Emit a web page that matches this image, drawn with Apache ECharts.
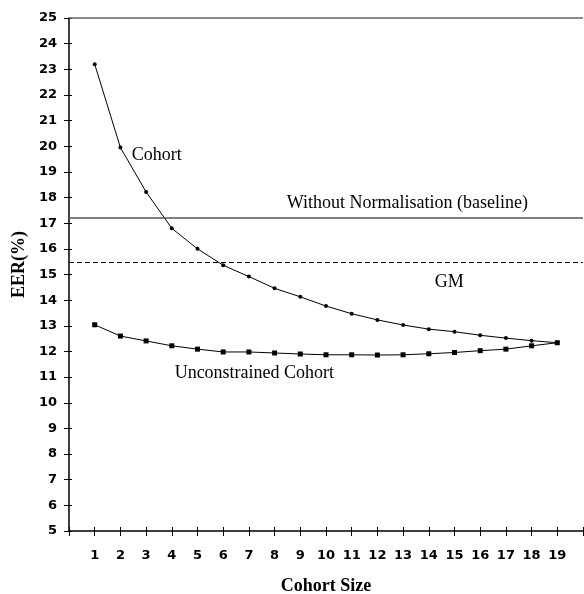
<!DOCTYPE html>
<html>
<head>
<meta charset="utf-8">
<script src="https://cdn.jsdelivr.net/npm/echarts@6/dist/echarts.min.js"></script>
<style>html,body{margin:0;padding:0;background:#fff;}#c{width:584px;height:594px;}</style>
</head>
<body>
<div id="c"></div>
<script>
const cohortSizes = [1,2,3,4,5,6,7,8,9,10,11,12,13,14,15,16,17,18,19];
const cohortEER = [23.2, 19.95, 18.22, 16.8, 16.0, 15.36, 14.92, 14.46, 14.13, 13.77, 13.47, 13.23, 13.03, 12.87, 12.77, 12.63, 12.52, 12.42, 12.34];
const unconstrainedEER = [13.04, 12.6, 12.41, 12.22, 12.09, 11.98, 11.98, 11.94, 11.9, 11.87, 11.87, 11.86, 11.87, 11.91, 11.96, 12.03, 12.09, 12.22, 12.34];
const baselineEER = 17.21;
const gmEER = 15.47;
const annotations = [
  {text: 'Cohort', x: 2.44, y: 19.66},
  {text: 'Without Normalisation (baseline)', x: 8.47, y: 17.79},
  {text: 'GM', x: 14.23, y: 14.71},
  {text: 'Unconstrained Cohort', x: 4.11, y: 11.16}
];

const chart = echarts.init(document.getElementById('c'), null, {renderer: 'canvas'});
const tickFont = {fontFamily: 'DejaVu Sans', fontWeight: 'bold', fontSize: 13, color: '#000'};
const serif = 'Liberation Serif, Times New Roman, serif';

const option = {
  animation: false,
  backgroundColor: '#fff',
  grid: {left: 69, top: 18, width: 514, height: 513, containLabel: false, outerBoundsMode: 'none'},
  xAxis: [{
    type: 'value', min: 0, max: 20, interval: 1,
    name: 'Cohort Size', nameLocation: 'middle', nameGap: 46,
    nameTextStyle: {fontFamily: serif, fontWeight: 'bold', fontSize: 18, color: '#000'},
    axisLine: {lineStyle: {color: '#000', width: 1.5}},
    axisTick: {show: true, length: 5, lineStyle: {color: '#000', width: 1}},
    axisLabel: Object.assign({margin: 18, formatter: v => (v >= 1 && v <= 19) ? String(v) : ''}, tickFont),
    splitLine: {show: false}
  }, {
    type: 'value', min: 0, max: 20, interval: 1, position: 'bottom',
    axisLine: {show: false},
    axisTick: {show: true, inside: true, length: 4, lineStyle: {color: '#000', width: 1}},
    axisLabel: {show: false}, splitLine: {show: false}
  }],
  yAxis: [{
    type: 'value', min: 5, max: 25, interval: 1,
    name: 'EER(%)', nameLocation: 'middle', nameGap: 41,
    nameTextStyle: {fontFamily: serif, fontWeight: 'bold', fontSize: 18, color: '#000', padding: [0, 0, 0, 20]},
    axisLine: {lineStyle: {color: '#000', width: 1.5}},
    axisTick: {show: true, length: 5, lineStyle: {color: '#000', width: 1}},
    axisLabel: Object.assign({margin: 12}, tickFont),
    splitLine: {show: false}
  }, {
    type: 'value', min: 5, max: 25, interval: 1, position: 'left',
    axisLine: {show: false},
    axisTick: {show: true, inside: true, length: 3, lineStyle: {color: '#000', width: 1}},
    axisLabel: {show: false}, splitLine: {show: false}
  }],
  series: [{
    name: 'Cohort', type: 'line', xAxisIndex: 0, yAxisIndex: 0,
    data: cohortSizes.map((s, i) => [s, cohortEER[i]]),
    symbol: 'circle', symbolSize: 4,
    lineStyle: {color: '#000', width: 1},
    itemStyle: {color: '#000'},
    markLine: {
      silent: true, symbol: 'none', label: {show: false},
      data: [
        {yAxis: 25, lineStyle: {color: '#666', width: 1.5, type: 'solid'}},
        {yAxis: baselineEER, lineStyle: {color: '#555', width: 1.5, type: 'solid'}},
        {yAxis: gmEER, lineStyle: {color: '#000', width: 1, type: [5, 3]}}
      ]
    },
    markPoint: {
      silent: true, symbol: 'circle', symbolSize: 0,
      label: {show: true, position: 'right', distance: 0, fontFamily: serif, fontSize: 18, color: '#000'},
      data: annotations.map(a => ({coord: [a.x, a.y], value: a.text, label: {formatter: a.text}}))
    }
  }, {
    name: 'Unconstrained Cohort', type: 'line', xAxisIndex: 0, yAxisIndex: 0,
    data: cohortSizes.map((s, i) => [s, unconstrainedEER[i]]),
    symbol: 'rect', symbolSize: 5,
    lineStyle: {color: '#000', width: 1},
    itemStyle: {color: '#000'}
  }]
};
chart.setOption(option);
</script>
</body>
</html>
